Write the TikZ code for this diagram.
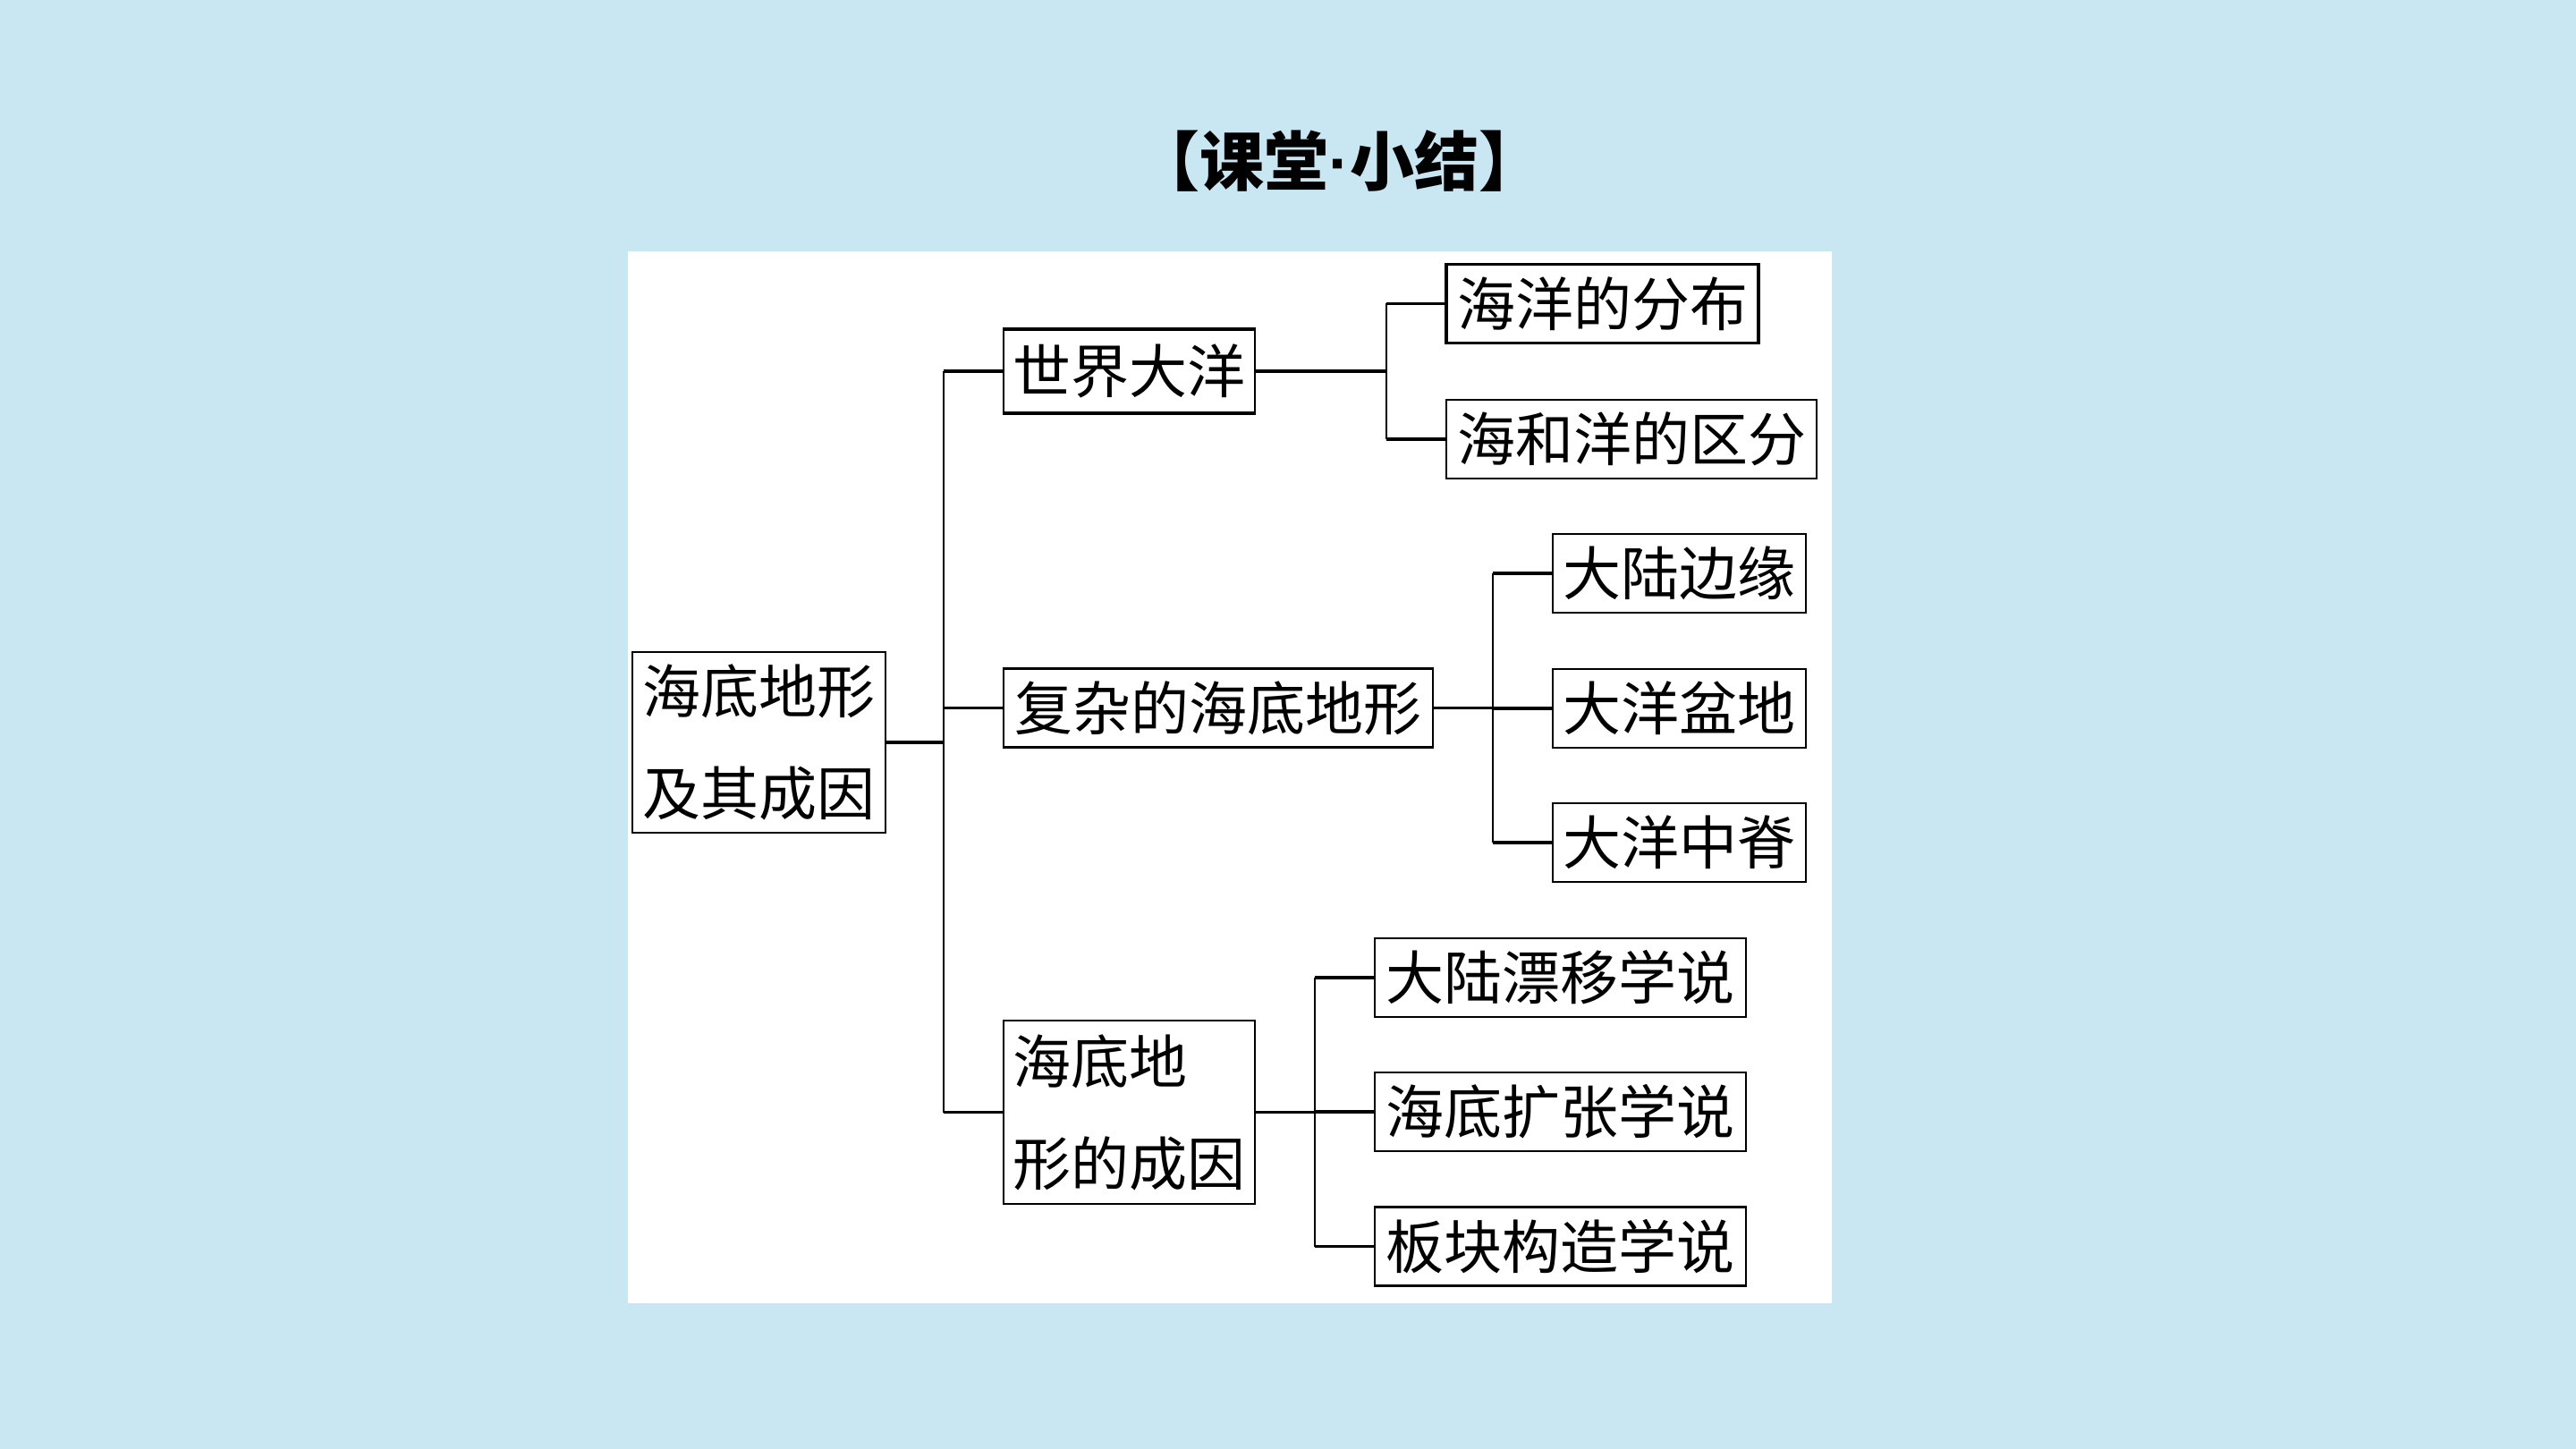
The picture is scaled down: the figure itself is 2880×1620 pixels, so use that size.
\documentclass[tikz,border=0pt]{standalone}
\usepackage{fontspec}
\newfontfamily\cjk{Noto Sans CJK SC}
\newfontfamily\lat{Liberation Sans}
\definecolor{bgblue}{RGB}{200,231,243}
\begin{document}
\begin{tikzpicture}[x=0.5pt,y=-0.5pt,
  box/.style={draw=black, line width=1.1pt, fill=white, inner sep=0pt,
    font=\cjk\fontsize{32.5}{57}\selectfont, minimum height=44pt},
  stub/.style={line width=1.8pt},
  vline/.style={line width=1pt}]
\useasboundingbox (0,0) rectangle (2880,1620);
\fill[bgblue] (0,0) rectangle (2880,1620);
\fill[white] (702,281) rectangle (2048,1457);
% title
\node (title) at (1497,180) {\cjk\bfseries\fontsize{36}{42}\selectfont 【课堂{\lat\bfseries ·}小结】};
% nodes
\node[box, minimum width=141.5pt, minimum height=101pt, align=left] (root) at (848.5,830) {海底地形\\及其成因};
\node[box, minimum width=140.5pt, minimum height=46pt] (wo) at (1262.5,415) {世界大洋};
\node[box, minimum width=240pt] (fz) at (1362,791.5) {复杂的海底地形};
\node[box, minimum width=140.5pt, minimum height=102.5pt, align=left] (cy) at (1262.5,1243.5) {海底地\\形的成因};
\node[box, line width=1.7pt, minimum width=174.5pt] (a1) at (1791.5,339.5) {海洋的分布};
\node[box, minimum width=207pt] (a2) at (1824,491) {海和洋的区分};
\node[box, minimum width=141.5pt] (b1) at (1877.5,641) {大陆边缘};
\node[box, minimum width=141.5pt] (b2) at (1877.5,792) {大洋盆地};
\node[box, minimum width=141.5pt] (b3) at (1877.5,942) {大洋中脊};
\node[box, minimum width=207.5pt] (c1) at (1744.5,1093) {大陆漂移学说};
\node[box, minimum width=207.5pt] (c2) at (1744.5,1243) {海底扩张学说};
\node[box, minimum width=207.5pt] (c3) at (1744.5,1393.5) {板块构造学说};
\draw[line width=2pt] (wo.north west) -- (wo.north east);
\draw[line width=2pt] (wo.south west) -- (wo.south east);
% junction columns
\coordinate (t) at (1055,0);
\coordinate (ta) at (1550,0);
\coordinate (tb) at (1669,0);
\coordinate (tc) at (1470,0);
% trunk
\draw[stub] (root.east) -- (root.east -| t);
\draw[vline] (wo.west -| t) -- (cy.west -| t);
\draw[stub] (wo.west -| t) -- (wo.west);
\draw[stub] (fz.west -| t) -- (fz.west);
\draw[stub] (cy.west -| t) -- (cy.west);
% world ocean
\draw[stub] (wo.east) -- (wo.east -| ta);
\draw[vline] (a1.west -| ta) -- (a2.west -| ta);
\draw[stub] (a1.west -| ta) -- (a1.west);
\draw[stub] (a2.west -| ta) -- (a2.west);
% seafloor
\draw[stub] (fz.east) -- (fz.east -| tb);
\draw[vline] (b1.west -| tb) -- (b3.west -| tb);
\draw[stub] (b1.west -| tb) -- (b1.west);
\draw[stub] (b2.west -| tb) -- (b2.west);
\draw[stub] (b3.west -| tb) -- (b3.west);
% causes
\draw[stub] (cy.east) -- (cy.east -| tc);
\draw[vline] (c1.west -| tc) -- (c3.west -| tc);
\draw[stub] (c1.west -| tc) -- (c1.west);
\draw[stub] (c2.west -| tc) -- (c2.west);
\draw[stub] (c3.west -| tc) -- (c3.west);
\end{tikzpicture}
\end{document}
